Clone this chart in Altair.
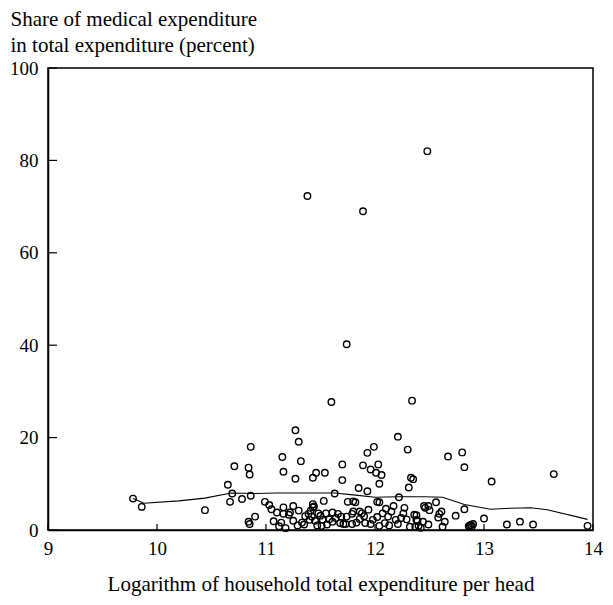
import altair as alt
import pandas as pd

# Scatter points: log expenditure per head vs. medical share (%)
x_vals = [
    9.78, 9.86, 10.44, 10.65, 10.69, 10.67, 10.71,
    10.78, 10.86, 10.84, 10.85, 10.86, 10.99, 11.03,
    11.15, 11.16, 11.27, 11.30, 11.32, 11.27, 11.43, 11.46, 11.54, 11.38,
    11.60, 11.70, 11.70, 11.74, 11.89, 11.89, 11.96, 12.03, 12.01, 12.06, 12.04, 11.85, 11.93, 11.93, 11.99,
    12.21, 12.30, 12.34, 12.33, 12.35, 12.31, 12.48,
    11.63, 11.53, 11.43, 11.44, 11.80, 11.75, 11.82, 12.02, 12.04, 12.22, 12.45,
    11.16, 11.25, 11.30, 10.90, 10.84, 10.85, 11.07, 11.14, 11.29, 11.16, 11.21, 11.22,
    11.36, 11.39, 11.41, 11.42, 11.45, 11.40, 11.43,
    11.51, 11.50, 11.55, 11.61, 11.66, 11.61, 11.68, 11.71, 11.73, 11.79,
    11.74, 11.79, 11.80, 11.86, 11.88,
    11.91, 11.96, 11.98, 12.02, 12.04, 12.09, 12.07, 12.12, 12.15, 12.17,
    12.19, 12.21, 12.26, 12.29, 12.32, 12.36, 12.38, 12.40, 12.44,
    12.46, 12.49, 12.50, 12.56, 12.59, 12.61, 12.58,
    12.38, 12.39, 12.49, 12.42, 12.37,
    12.64, 12.62, 12.74, 12.82, 12.86, 12.88, 12.90, 12.89, 12.87,
    13.00, 13.21, 13.33, 13.45, 13.95,
    12.67, 12.80, 12.82, 13.07, 13.64,
    11.12, 11.18, 11.25, 11.33, 11.47, 11.56, 11.58, 11.64, 11.69, 11.83,
    11.86, 11.90, 11.94, 12.10, 12.13, 12.24, 12.27, 11.10, 11.05, 11.35,
    11.48, 11.52,
]
y_vals = [
    6.8, 5.0, 4.3, 9.8, 7.9, 6.1, 13.8,
    6.7, 7.4, 13.5, 12.0, 18.0, 6.1, 5.4,
    15.8, 12.6, 21.6, 19.1, 14.9, 11.1, 11.3, 12.4, 12.4, 72.3,
    27.7, 14.2, 10.8, 40.2, 69.0, 14.0, 13.1, 14.2, 12.4, 11.9, 10.0, 9.1, 8.4, 16.7, 18.0,
    20.2, 17.4, 28.0, 11.3, 11.0, 9.2, 82.0,
    7.9, 6.3, 5.6, 5.1, 6.2, 6.1, 6.0, 6.1, 6.0, 7.1, 5.2,
    4.9, 5.2, 4.2, 2.9, 1.8, 1.3, 1.9, 1.6, 1.0, 3.5, 3.3, 3.8,
    3.0, 3.5, 4.2, 2.9, 2.0, 2.2, 4.9,
    0.9, 3.1, 3.6, 3.8, 3.5, 1.8, 1.5, 1.3, 1.3, 1.3,
    2.9, 3.5, 4.0, 4.0, 3.6,
    1.5, 1.3, 2.2, 2.8, 0.9, 1.5, 3.6, 2.9, 4.0, 5.2,
    2.2, 1.3, 3.6, 2.3, 0.7, 3.3, 2.2, 0.9, 1.8,
    4.8, 5.2, 4.3, 6.0, 3.5, 4.0, 2.7,
    3.2, 2.0, 1.2, 0.5, 0.7,
    1.8, 0.7, 3.1, 4.5, 0.8, 1.1, 1.3, 0.8, 1.0,
    2.5, 1.2, 1.8, 1.2, 0.9,
    15.9, 16.8, 13.6, 10.5, 12.1,
    0.8, 0.4, 2.0, 1.6, 1.0, 1.2, 2.3, 2.6, 2.9, 1.6,
    2.4, 3.0, 4.4, 4.6, 1.0, 2.6, 4.8, 3.8, 4.5, 1.2,
    3.6, 2.2,
]

# Smoothed (nonparametric regression) curve
line_x = [9.78, 9.88, 10.20, 10.44, 10.68, 10.90, 11.10, 11.40, 11.63, 11.80,
          12.00, 12.20, 12.45, 12.62, 12.82, 13.06, 13.24, 13.43, 13.58, 13.95]
line_y = [6.8, 5.8, 6.3, 6.9, 8.0, 7.9, 8.0, 8.0, 8.0, 7.6,
          7.1, 7.2, 7.2, 7.1, 5.5, 4.5, 4.7, 4.8, 4.4, 2.3]

x_ticks = [9, 10, 11, 12, 13, 14]
y_ticks = [0, 20, 40, 60, 80, 100]

FONT = "Liberation Serif"

pts = pd.DataFrame({"x": x_vals, "y": y_vals})
curve = pd.DataFrame({"x": line_x, "y": line_y, "o": list(range(len(line_x)))})
xt = pd.DataFrame({"x": x_ticks})
yt = pd.DataFrame({"y": y_ticks})

xscale = alt.Scale(domain=[9, 14], nice=False, zero=False)
yscale = alt.Scale(domain=[0, 100], nice=False, zero=False)

xaxis = alt.Axis(
    values=x_ticks, title="Logarithm of household total expenditure per head",
    labelPadding=9, titlePadding=15, labelFlush=False, format="d")
yaxis = alt.Axis(
    values=y_ticks,
    title=["Share of medical expenditure", "in total expenditure (percent)"],
    labelPadding=10, labelFlush=False, titleAngle=0, titleAlign="left",
    titleBaseline="top", titleX=-38, titleY=-60, titleLineHeight=26, format="d")

X = alt.X("x:Q", scale=xscale, axis=xaxis)
Y = alt.Y("y:Q", scale=yscale, axis=yaxis)

points = alt.Chart(pts).mark_point(
    shape="circle", filled=False, color="black", size=42, strokeWidth=1.4, opacity=1
).encode(x=X, y=Y)

line = alt.Chart(curve).mark_line(color="black", strokeWidth=1.1).encode(
    x=X, y=Y, order="o:Q",
)

yticks = alt.Chart(yt).mark_rule(color="black", strokeWidth=1.2).encode(
    y=Y, x=alt.value(0), x2=alt.value(9),
)

xticks = alt.Chart(xt).mark_rule(color="black", strokeWidth=1.2).encode(
    x=X, y=alt.value(462), y2=alt.value(456),
)

chart = alt.layer(line, points, yticks, xticks).properties(
    width=545, height=462,
    autosize=alt.AutoSizeParams(type="none"),
    padding={"left": 40, "top": 60, "right": 12, "bottom": 67},
).configure_view(
    stroke="black", strokeWidth=1.5
).configure_axis(
    grid=False, ticks=False, domainColor="black", domainWidth=1.5,
    labelFont=FONT, labelFontSize=19, labelColor="black",
    titleFont=FONT, titleFontSize=21, titleFontWeight="normal", titleColor="black",
)

chart.save("out.html", embed_options={"renderer": "svg", "actions": False})
